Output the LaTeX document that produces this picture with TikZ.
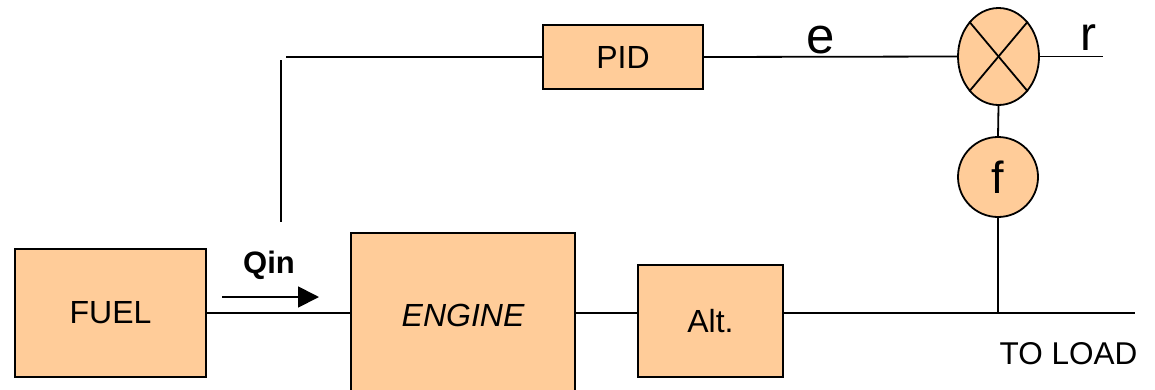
\documentclass[tikz,border=0pt]{standalone}
\usepackage{fontspec}
\setmainfont{Liberation Sans}
\usetikzlibrary{shapes.geometric,arrows.meta}
\definecolor{boxfill}{HTML}{FFCC99}
\tikzset{
  wire/.style={line width=1.8pt},
  blk/.style={draw, line width=1.8pt, fill=boxfill, inner sep=0pt, font=\fontsize{32}{37}\selectfont},
  lbl/.style={inner sep=0pt},
}
\begin{document}
\begin{tikzpicture}[x=1pt,y=-1pt]
\useasboundingbox (0,0) rectangle (1155,389);
\clip (0,0) rectangle (1155,389);
% blocks
\node[blk, minimum width=160pt, minimum height=64pt] (pid) at (623,57) {PID};
\node[blk, minimum width=191pt, minimum height=128pt] (fuel) at (110.5,313) {FUEL};
\node[blk, minimum width=224pt, minimum height=164pt] (engine) at (463,315) {\itshape ENGINE};
\node[blk, minimum width=145pt, minimum height=112pt] (alt) at (710.5,321) {Alt.};
\node[blk, ellipse, minimum width=81pt, minimum height=97pt] (sum) at (998.5,56.5) {};
\node[blk, circle, minimum size=80pt, font=\fontsize{45}{50}\selectfont] (f) at (998,177) {f};
% coordinates
\coordinate (tl) at (286,57);
\coordinate (v1) at (281,60);
\coordinate (v2) at (281,222);
\coordinate (rend) at (1103,56.5);
\coordinate (jn) at (998,313);
\coordinate (load) at (1135,313);
\coordinate (qa) at (222,297);
\coordinate (qb) at (319,297);
% cross in summing junction
\draw[wire] (sum.north west) -- (sum.south east);
\draw[wire] (sum.north east) -- (sum.south west);
% connectors
\draw[wire] (tl) -- (pid.west);
\draw[wire] (v1) -- (v2);
\draw[wire] (pid.east) -- (sum.west);
\draw[wire] (sum.east) -- (rend);
\draw[wire] (sum.south) -- (f.north);
\draw[wire] (f.south) -- (jn);
\draw[wire] (fuel.east) -- (fuel.east -| engine.west);
\draw[wire] (fuel.east -| engine.east) -- (fuel.east -| alt.west);
\draw[wire] (fuel.east -| alt.east) -- (load);
\draw[wire, -{Triangle[length=21pt,width=21pt]}] (qa) -- (qb);
% labels
\node[lbl, font=\fontsize{31}{36}\selectfont\bfseries] (qin) at (269,265) {Qin};
\node[lbl, font=\fontsize{51}{56}\selectfont] (elbl) at (821,40.5) {e};
\node[lbl, font=\fontsize{48}{54}\selectfont] (rlbl) at (1088,37.5) {r};
\node[lbl, font=\fontsize{31.5}{36}\selectfont] (toload) at (1068.5,354) {TO LOAD};
\end{tikzpicture}
\end{document}
